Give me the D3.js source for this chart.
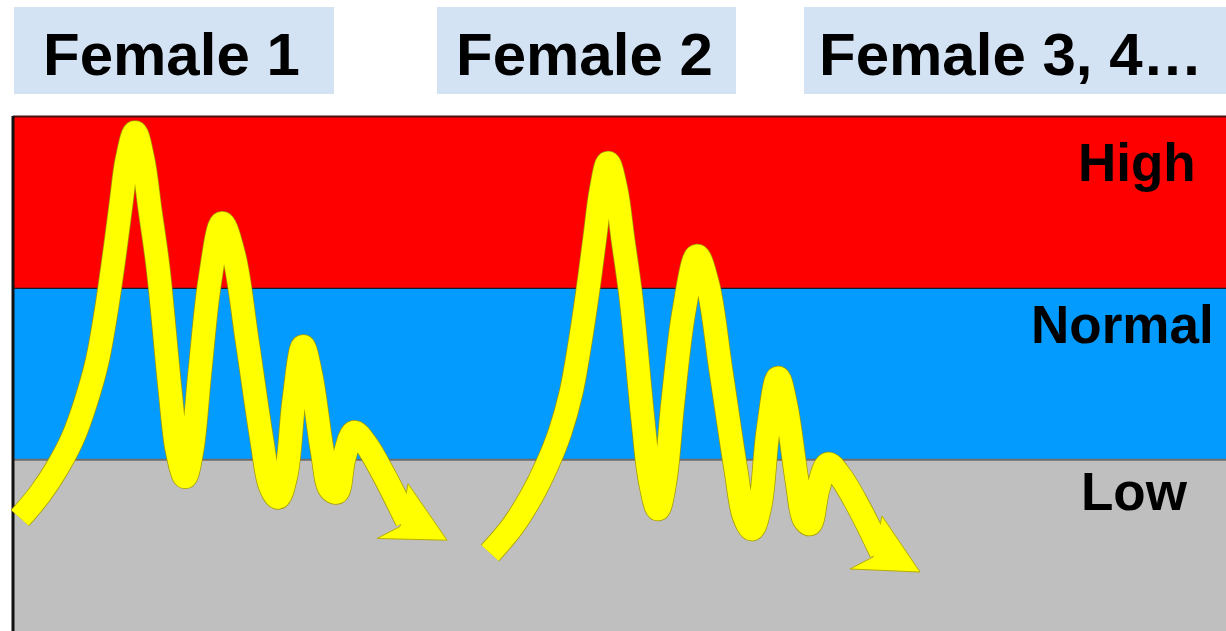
<!DOCTYPE html>
<html>
<head>
<meta charset="utf-8">
<script src="https://cdnjs.cloudflare.com/ajax/libs/d3/7.8.5/d3.min.js"></script>
<style>
	html, body { margin: 0; padding: 0; background: #fff; overflow: hidden; }
	text { font-family: "Liberation Sans", Arial, sans-serif; font-weight: bold; }
</style>
</head>
<body>
<div id="chart"></div>
<script>
// hormone level bands (low / normal / high), value units 0..3
var bandNames = ["Low", "Normal", "High"];
var bandLow = [0, 1, 2];
var bandHigh = [1, 2, 3];

// header labels
var femaleLabels = ["Female 1", "Female 2", "Female 3, 4\u2026"];

// level over time for each female (time, level)
var female1Time = [0.69, 2.67, 4.45, 5.94, 7.22, 8.31, 9.20, 9.99, 10.68, 11.28, 12.07, 12.86, 13.55, 14.35,
	15.53, 16.22, 17.02, 17.71, 18.50, 19.49, 20.68, 21.86, 23.15, 24.63, 25.43, 26.22, 27.01, 27.80,
	28.69, 29.48, 30.57, 31.36, 32.05, 32.75, 33.74, 34.92, 36.70, 38.98];
var female1Level = [0.66, 0.80, 0.96, 1.13, 1.34, 1.57, 1.86, 2.18, 2.49, 2.75, 2.91, 2.75, 2.46, 2.12,
	1.41, 1.06, 0.90, 1.06, 1.52, 2.05, 2.38, 2.19, 1.70, 1.11, 0.85, 0.78, 0.91, 1.35,
	1.66, 1.49, 1.06, 0.83, 0.81, 1.01, 1.16, 1.09, 0.91, 0.642];
// arrow head: upper barb, tip, lower barb, notch
var female1HeadTime = [39.08, 42.94, 36.01, 38.29];
var female1HeadLevel = [0.86, 0.53, 0.54, 0.61];

var female2Time = [47.19, 49.37, 51.25, 52.83, 54.12, 55.20, 56.09, 56.89, 57.58, 58.17, 58.87, 59.66, 60.35, 61.14,
	62.33, 63.02, 63.81, 64.50, 65.29, 66.38, 67.67, 68.76, 70.04, 71.53, 72.32, 73.11, 73.90, 74.69,
	75.68, 76.47, 77.56, 78.25, 78.85, 79.64, 80.63, 81.82, 83.60, 85.87];
var female2Level = [0.455, 0.607, 0.782, 0.969, 1.161, 1.389, 1.681, 1.996, 2.305, 2.568, 2.732, 2.574, 2.282, 1.944,
	1.226, 0.881, 0.712, 0.876, 1.342, 1.868, 2.189, 2.014, 1.518, 0.934, 0.671, 0.595, 0.730, 1.167,
	1.477, 1.313, 0.876, 0.654, 0.625, 0.829, 0.975, 0.905, 0.730, 0.461];
var female2HeadTime = [85.97, 89.73, 82.81, 85.08];
var female2HeadLevel = [0.671, 0.344, 0.362, 0.432];

// layout
var width = 1226, height = 631;
var plot = { left: 13, top: 117, right: 1226, bottom: 631 };
var bandColors = { Low: "#bfbfbf", Normal: "#049bff", High: "#ff0000" };
var headerBoxes = [ { x: 14, w: 320 }, { x: 437, w: 299 }, { x: 804, w: 422 } ];
var headerTextX = [43, 456, 819];
var labelX = { High: 1078, Normal: 1031, Low: 1081 };
var labelDy = { High: 64, Normal: 55, Low: 50 };

var svg = d3.select("#chart").append("svg")
	.attr("width", width)
	.attr("height", height);

var x = d3.scaleLinear().domain([0, 120]).range([plot.left, plot.right]);
var y = d3.scaleLinear().domain([0, 3]).range([plot.bottom, plot.top]);

// header boxes
var headers = svg.append("g").selectAll("g")
	.data(femaleLabels)
	.enter().append("g");

headers.append("rect")
	.attr("x", function(d, i) { return headerBoxes[i].x; })
	.attr("y", 7)
	.attr("width", function(d, i) { return headerBoxes[i].w; })
	.attr("height", 87)
	.attr("fill", "#d4e3f4");

headers.append("text")
	.attr("x", function(d, i) { return headerTextX[i]; })
	.attr("y", 75)
	.attr("font-size", 60)
	.attr("fill", "#000")
	.text(function(d) { return d; });

// bands
var bands = bandNames.map(function(n, i) { return { name: n, lo: bandLow[i], hi: bandHigh[i] }; });

svg.append("g").selectAll("rect")
	.data(bands)
	.enter().append("rect")
	.attr("x", plot.left)
	.attr("y", function(d) { return y(d.hi); })
	.attr("width", plot.right - plot.left)
	.attr("height", function(d) { return y(d.lo) - y(d.hi); })
	.attr("fill", function(d) { return bandColors[d.name]; });

// separators between bands
svg.append("g").selectAll("line")
	.data([1, 2])
	.enter().append("line")
	.attr("x1", plot.left).attr("x2", plot.right)
	.attr("y1", function(d) { return y(d); })
	.attr("y2", function(d) { return y(d); })
	.attr("stroke", function(d) { return d == 1 ? "#6e6e6e" : "#1a1a2a"; })
	.attr("stroke-width", function(d) { return d == 1 ? 2 : 1.2; });

// frame: top and left
svg.append("line")
	.attr("x1", plot.left).attr("x2", plot.right)
	.attr("y1", y(3) - 0.5).attr("y2", y(3) - 0.5)
	.attr("stroke", "#4a1010").attr("stroke-width", 2);
svg.append("line")
	.attr("x1", plot.left).attr("x2", plot.left)
	.attr("y1", y(3) - 1).attr("y2", plot.bottom)
	.attr("stroke", "#111").attr("stroke-width", 3);

// band labels
svg.append("g").selectAll("text")
	.data(bands)
	.enter().append("text")
	.attr("x", function(d) { return labelX[d.name]; })
	.attr("y", function(d) { return y(d.hi) + labelDy[d.name]; })
	.attr("font-size", 53)
	.attr("fill", "#000")
	.text(function(d) { return d.name; });

// yellow arrows
var line = d3.line()
	.x(function(d) { return x(d[0]); })
	.y(function(d) { return y(d[1]); })
	.curve(d3.curveCatmullRom.alpha(0.5));

var arrows = [
	{ pts: d3.zip(female1Time, female1Level), head: d3.zip(female1HeadTime, female1HeadLevel) },
	{ pts: d3.zip(female2Time, female2Level), head: d3.zip(female2HeadTime, female2HeadLevel) }
];

var ag = svg.append("g");

arrows.forEach(function(a) {
	var headPts = a.head.map(function(p) { return [x(p[0]), y(p[1])]; });

	// thin olive outline first
	ag.append("path")
		.attr("d", line(a.pts))
		.attr("fill", "none")
		.attr("stroke", "#a39a00")
		.attr("stroke-width", 24.5)
		.attr("stroke-linejoin", "round");
	ag.append("polygon")
		.attr("points", headPts.map(function(p) { return p.join(","); }).join(" "))
		.attr("fill", "#ffff00")
		.attr("stroke", "#b8ae00")
		.attr("stroke-width", 1)
		.attr("stroke-linejoin", "miter");
	ag.append("path")
		.attr("d", line(a.pts))
		.attr("fill", "none")
		.attr("stroke", "#ffff00")
		.attr("stroke-width", 23)
		.attr("stroke-linejoin", "round");
});
</script>
</body>
</html>
